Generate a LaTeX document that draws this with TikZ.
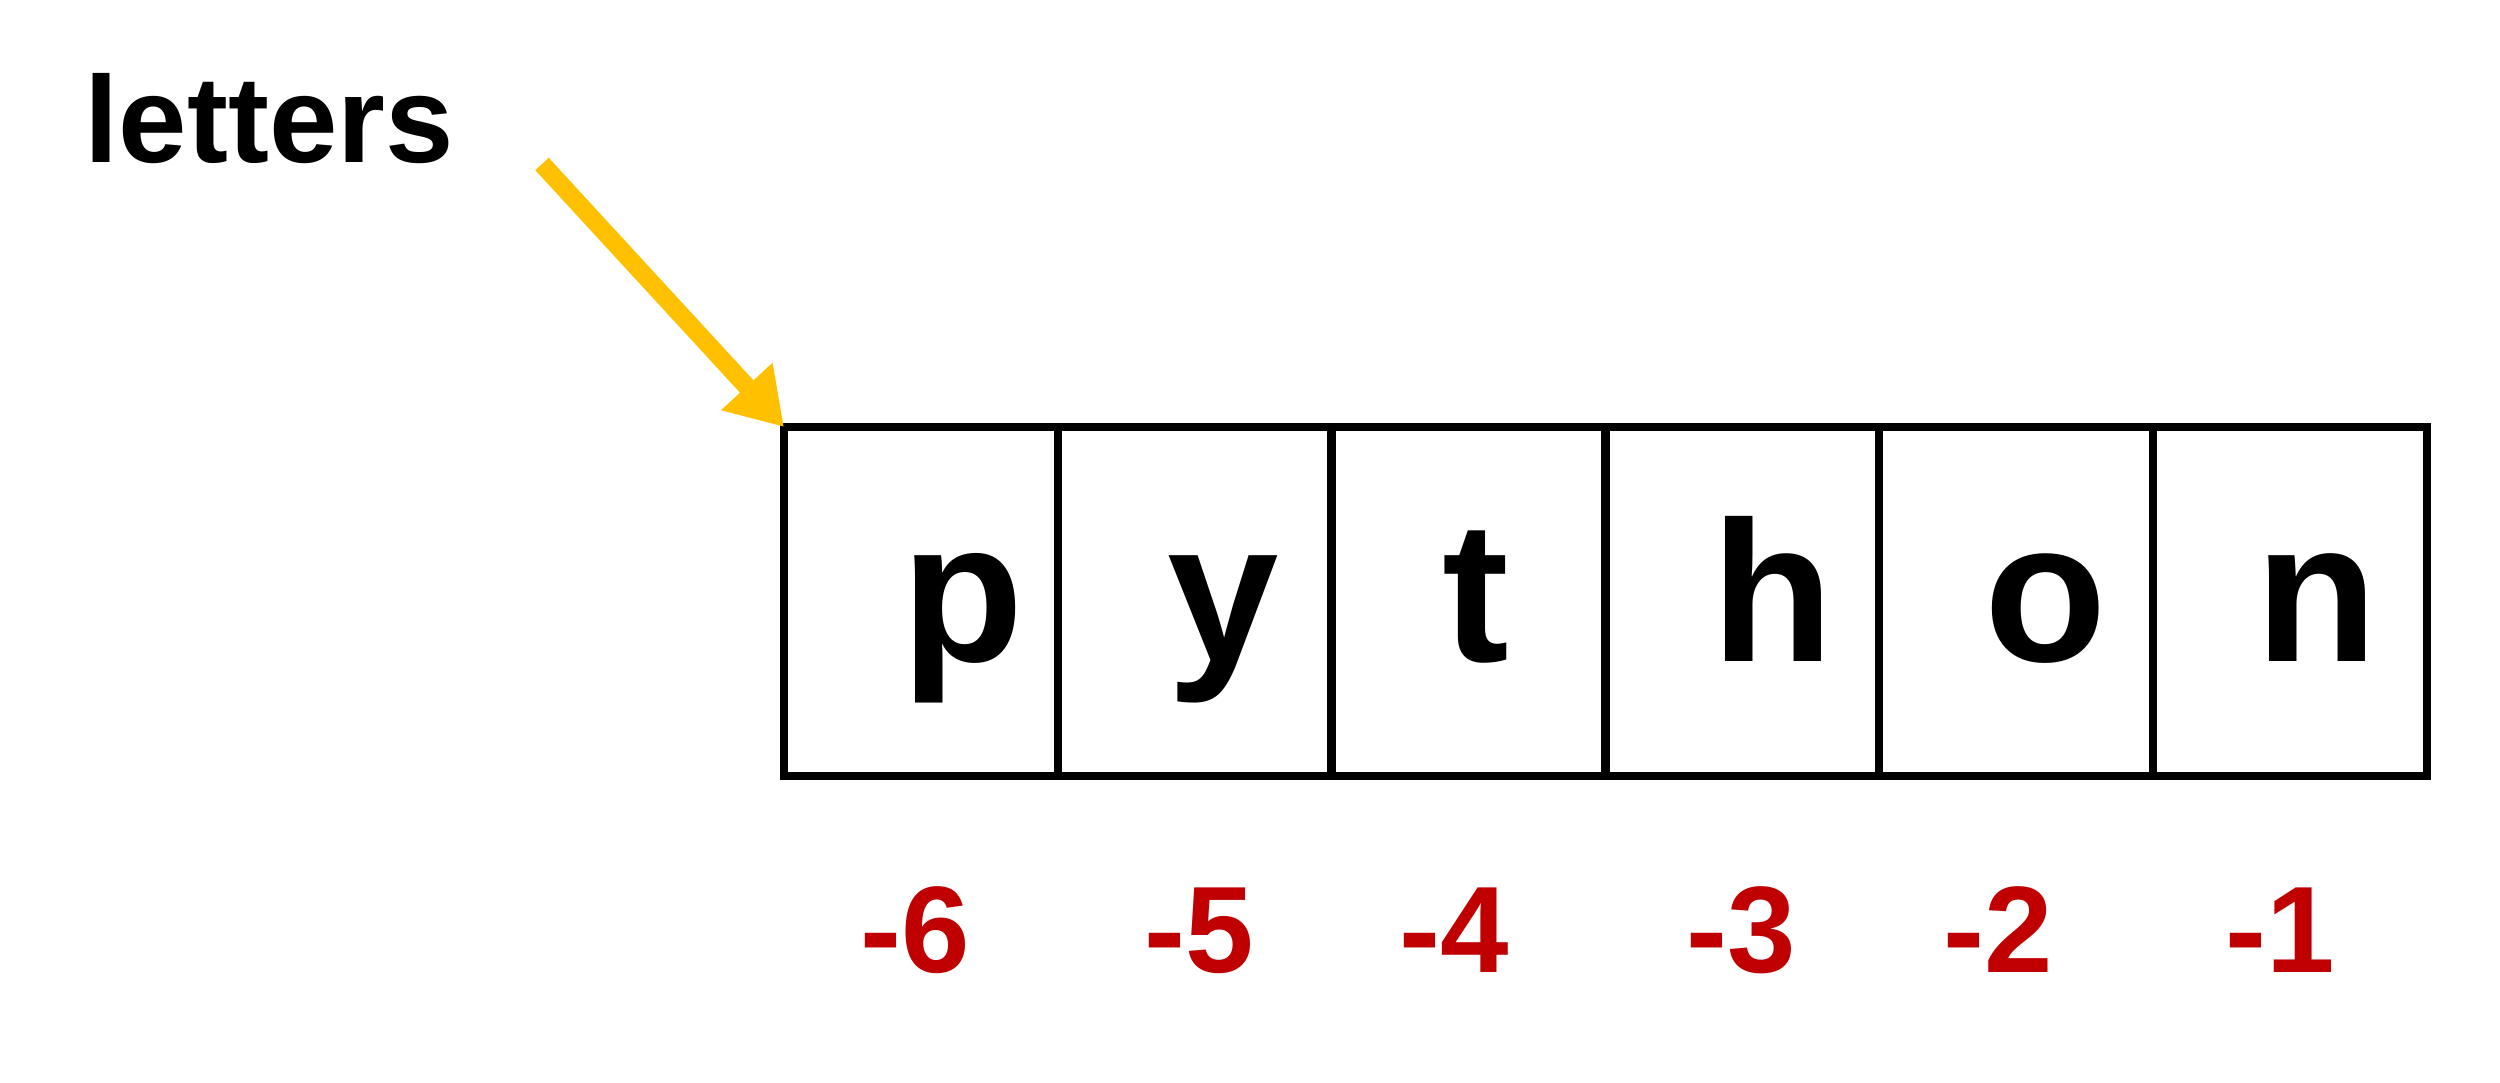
\documentclass[tikz,border=0pt]{standalone}
\usepackage{fontspec}
\setmainfont{Liberation Sans}
\usetikzlibrary{arrows.meta}
\definecolor{idxred}{HTML}{C00000}
\definecolor{ptryellow}{HTML}{FFC000}
\begin{document}
\begin{tikzpicture}[
  cell/.style={shape=rectangle,draw=black,line width=2.4pt,minimum width=2.738cm,minimum height=3.49cm,outer sep=0pt,inner sep=0pt},
  letter/.style={anchor=base,inner sep=0pt,font=\fontsize{57}{60}\selectfont\bfseries},
  index/.style={anchor=base,inner sep=0pt,text=idxred,font=\fontsize{35}{38}\selectfont\bfseries},
  pointer/.style={draw=ptryellow,line width=5.2pt,-{Triangle[length=0.55cm,width=0.66cm]}}
]
  \useasboundingbox (0,0) rectangle (25,10.83);
  \node[anchor=base west,inner sep=0pt,font=\fontsize{35}{38}\selectfont\bfseries] (name) at (0.84,9.20) {letters};
  \coordinate (tail) at (5.42,9.19);
  \node[cell] (cp) at (9.209,4.815) {};
  \node[cell] (cy) at (11.947,4.815) {};
  \node[cell] (ct) at (14.685,4.815) {};
  \node[cell] (ch) at (17.423,4.815) {};
  \node[cell] (co) at (20.161,4.815) {};
  \node[cell] (cn) at (22.899,4.815) {};
  \node[letter] (lp) at (9.63,4.21) {p};
  \node[letter] (ly) at (12.23,4.21) {y};
  \node[letter] (lt) at (14.76,4.21) {t};
  \node[letter] (lh) at (17.73,4.21) {h};
  \node[letter] (lo) at (20.46,4.21) {o};
  \node[letter] (ln) at (23.17,4.21) {n};
  \node[index] (i6) at (9.15,1.10) {-6};
  \node[index] (i5) at (11.99,1.10) {-5};
  \node[index] (i4) at (14.54,1.10) {-4};
  \node[index] (i3) at (17.41,1.10) {-3};
  \node[index] (i2) at (19.98,1.10) {-2};
  \node[index] (i1) at (22.80,1.10) {-1};
  \path[pointer] (tail) -- (cp.north west);
\end{tikzpicture}
\end{document}
